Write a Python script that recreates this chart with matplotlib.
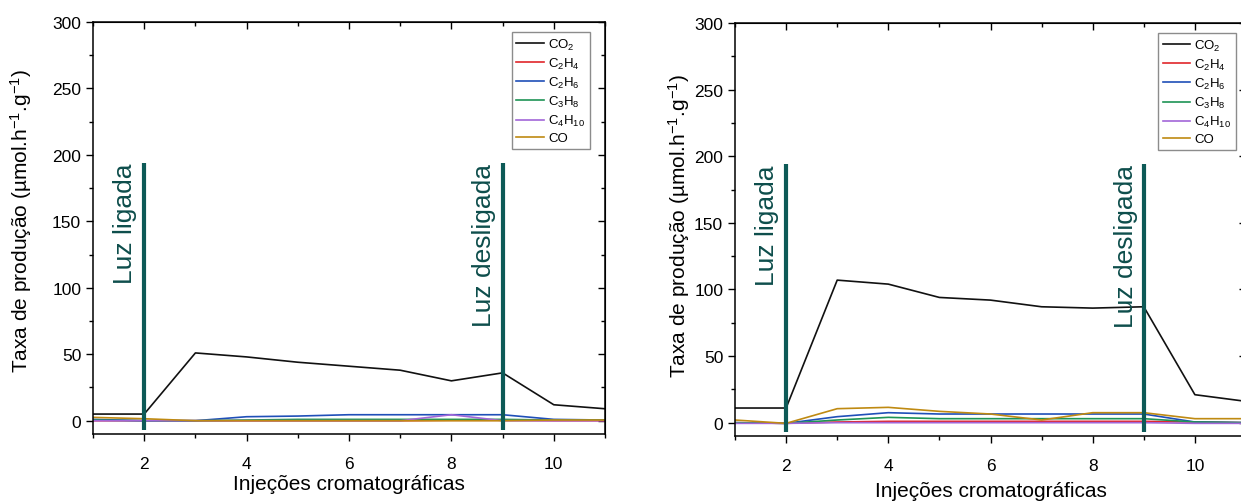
import matplotlib
matplotlib.use("Agg")
import matplotlib.pyplot as plt
from matplotlib.ticker import MultipleLocator

plt.rcParams['font.family'] = ['Liberation Sans', 'DejaVu Sans']
plt.rcParams['mathtext.default'] = 'regular'

x = [1, 2, 3, 4, 5, 6, 7, 8, 9, 10, 11]
labels = ['CO$_2$', 'C$_2$H$_4$', 'C$_2$H$_6$', 'C$_3$H$_8$', 'C$_4$H$_{10}$', 'CO']
colors = ['#111111', '#e0262b', '#1f4fb8', '#1e9455', '#a266d8', '#bf8a12']

# Left panel
co2_L = [5, 5, 51, 48, 44, 41, 38, 30, 36, 12, 9]
c2h4_L = [0, 0, 0, 0, 0, 0, 0, 0.3, 0.3, 0, 0]
c2h6_L = [1, 0, 0, 3, 3.5, 4.5, 4.5, 4.5, 4.5, 1, 0.5]
c3h8_L = [0.5, 0, 0, 0.5, 1, 1, 1, 1, 1, 0.5, 0.5]
c4h10_L = [0, 0, 0, 0, 0, 0, 0, 4.5, 0, 0, 0]
co_L = [2.5, 1.5, 0, 0, 0, 0, 0, 0, 0, 0.5, 0.5]

# Right panel
co2_R = [11, 11, 107, 104, 94, 92, 87, 86, 87, 21, 16]
c2h4_R = [0, -0.5, 0.5, 1, 1, 1, 1, 1, 1, 0.5, 0]
c2h6_R = [0, -0.5, 4.5, 7.5, 6.5, 6.5, 6.5, 6.5, 6.5, 0.5, 0]
c3h8_R = [0, -0.5, 2, 4, 3, 3, 3, 3, 3, 0.5, 0]
c4h10_R = [-0.5, -0.5, 0, 0, 0, 0, 0, 0, 0, -0.5, -0.5]
co_R = [2, -0.5, 10.5, 11.5, 8.5, 6.5, 2, 7.5, 7.5, 3, 3]

light_on_x = 2
light_off_x = 9
marker_span = (-7, 194)
teal = '#0d5a57'
text_teal = '#0d4d4b'

fig = plt.figure(figsize=(12.41, 5.02), dpi=100)
ax1 = fig.add_axes([93/1241, 67/502, 512/1241, 412/502])
ax2 = fig.add_axes([735/1241, 65/502, 511/1241, 413/502])

panels = [
    (ax1, [co2_L, c2h4_L, c2h6_L, c3h8_L, c4h10_L, co_L], 1.62, 8.64, 2, -0.115, 0.52, 0.97),
    (ax2, [co2_R, c2h4_R, c2h6_R, c3h8_R, c4h10_R, co_R], 1.62, 8.66, 5.5, -0.084, 0.51, 0.98),
]

for ax, series, ton, toff, xlpad, ylx, yly, legx in panels:
    for ys, lab, c in zip(series, labels, colors):
        ax.plot(x, ys, color=c, lw=1.2, label=lab)
    for vx in (light_on_x, light_off_x):
        ax.plot([vx, vx], marker_span, color=teal, lw=3.0, zorder=5, solid_capstyle='butt')
    ax.text(ton, marker_span[1], 'Luz ligada', rotation=90, ha='center', va='top',
            fontsize=19, color=text_teal)
    ax.text(toff, marker_span[1], 'Luz desligada', rotation=90, ha='center', va='top',
            fontsize=19, color=text_teal)
    ax.set_xlim(1, 11)
    ax.set_ylim(-10, 300)
    ax.xaxis.set_major_locator(MultipleLocator(2))
    ax.xaxis.set_minor_locator(MultipleLocator(1))
    ax.yaxis.set_major_locator(MultipleLocator(50))
    ax.yaxis.set_minor_locator(MultipleLocator(25))
    ax.tick_params(which='major', direction='out', length=5, width=1, labelsize=12.5)
    ax.tick_params(axis='x', which='major', pad=11)
    ax.tick_params(which='minor', direction='out', length=3, width=1)
    for s in ax.spines.values():
        s.set_linewidth(1.1)
    sx = ax.secondary_xaxis('top')
    sx.xaxis.set_major_locator(MultipleLocator(2))
    sx.xaxis.set_minor_locator(MultipleLocator(1))
    sx.tick_params(which='major', direction='in', length=5, width=1, labeltop=False)
    sx.tick_params(which='minor', direction='in', length=3, width=1)
    sy = ax.secondary_yaxis('right')
    sy.yaxis.set_major_locator(MultipleLocator(50))
    sy.yaxis.set_minor_locator(MultipleLocator(25))
    sy.tick_params(which='major', direction='in', length=5, width=1, labelright=False)
    sy.tick_params(which='minor', direction='in', length=3, width=1)
    ax.set_xlabel('Injeções cromatográficas', fontsize=15, labelpad=xlpad)
    ax.set_ylabel('Taxa de produção (µmol.h$^{-1}$.g$^{-1}$)', fontsize=15)
    ax.yaxis.set_label_coords(ylx, yly)
    leg = ax.legend(loc='upper right', bbox_to_anchor=(legx, 0.975), fontsize=9.5,
                    frameon=True, fancybox=False, edgecolor='#707070',
                    handlelength=2.1, labelspacing=0.3, borderpad=0.35,
                    handletextpad=0.3, borderaxespad=0)
    leg.get_frame().set_linewidth(1.0)

fig.savefig('out.png', dpi=100)
